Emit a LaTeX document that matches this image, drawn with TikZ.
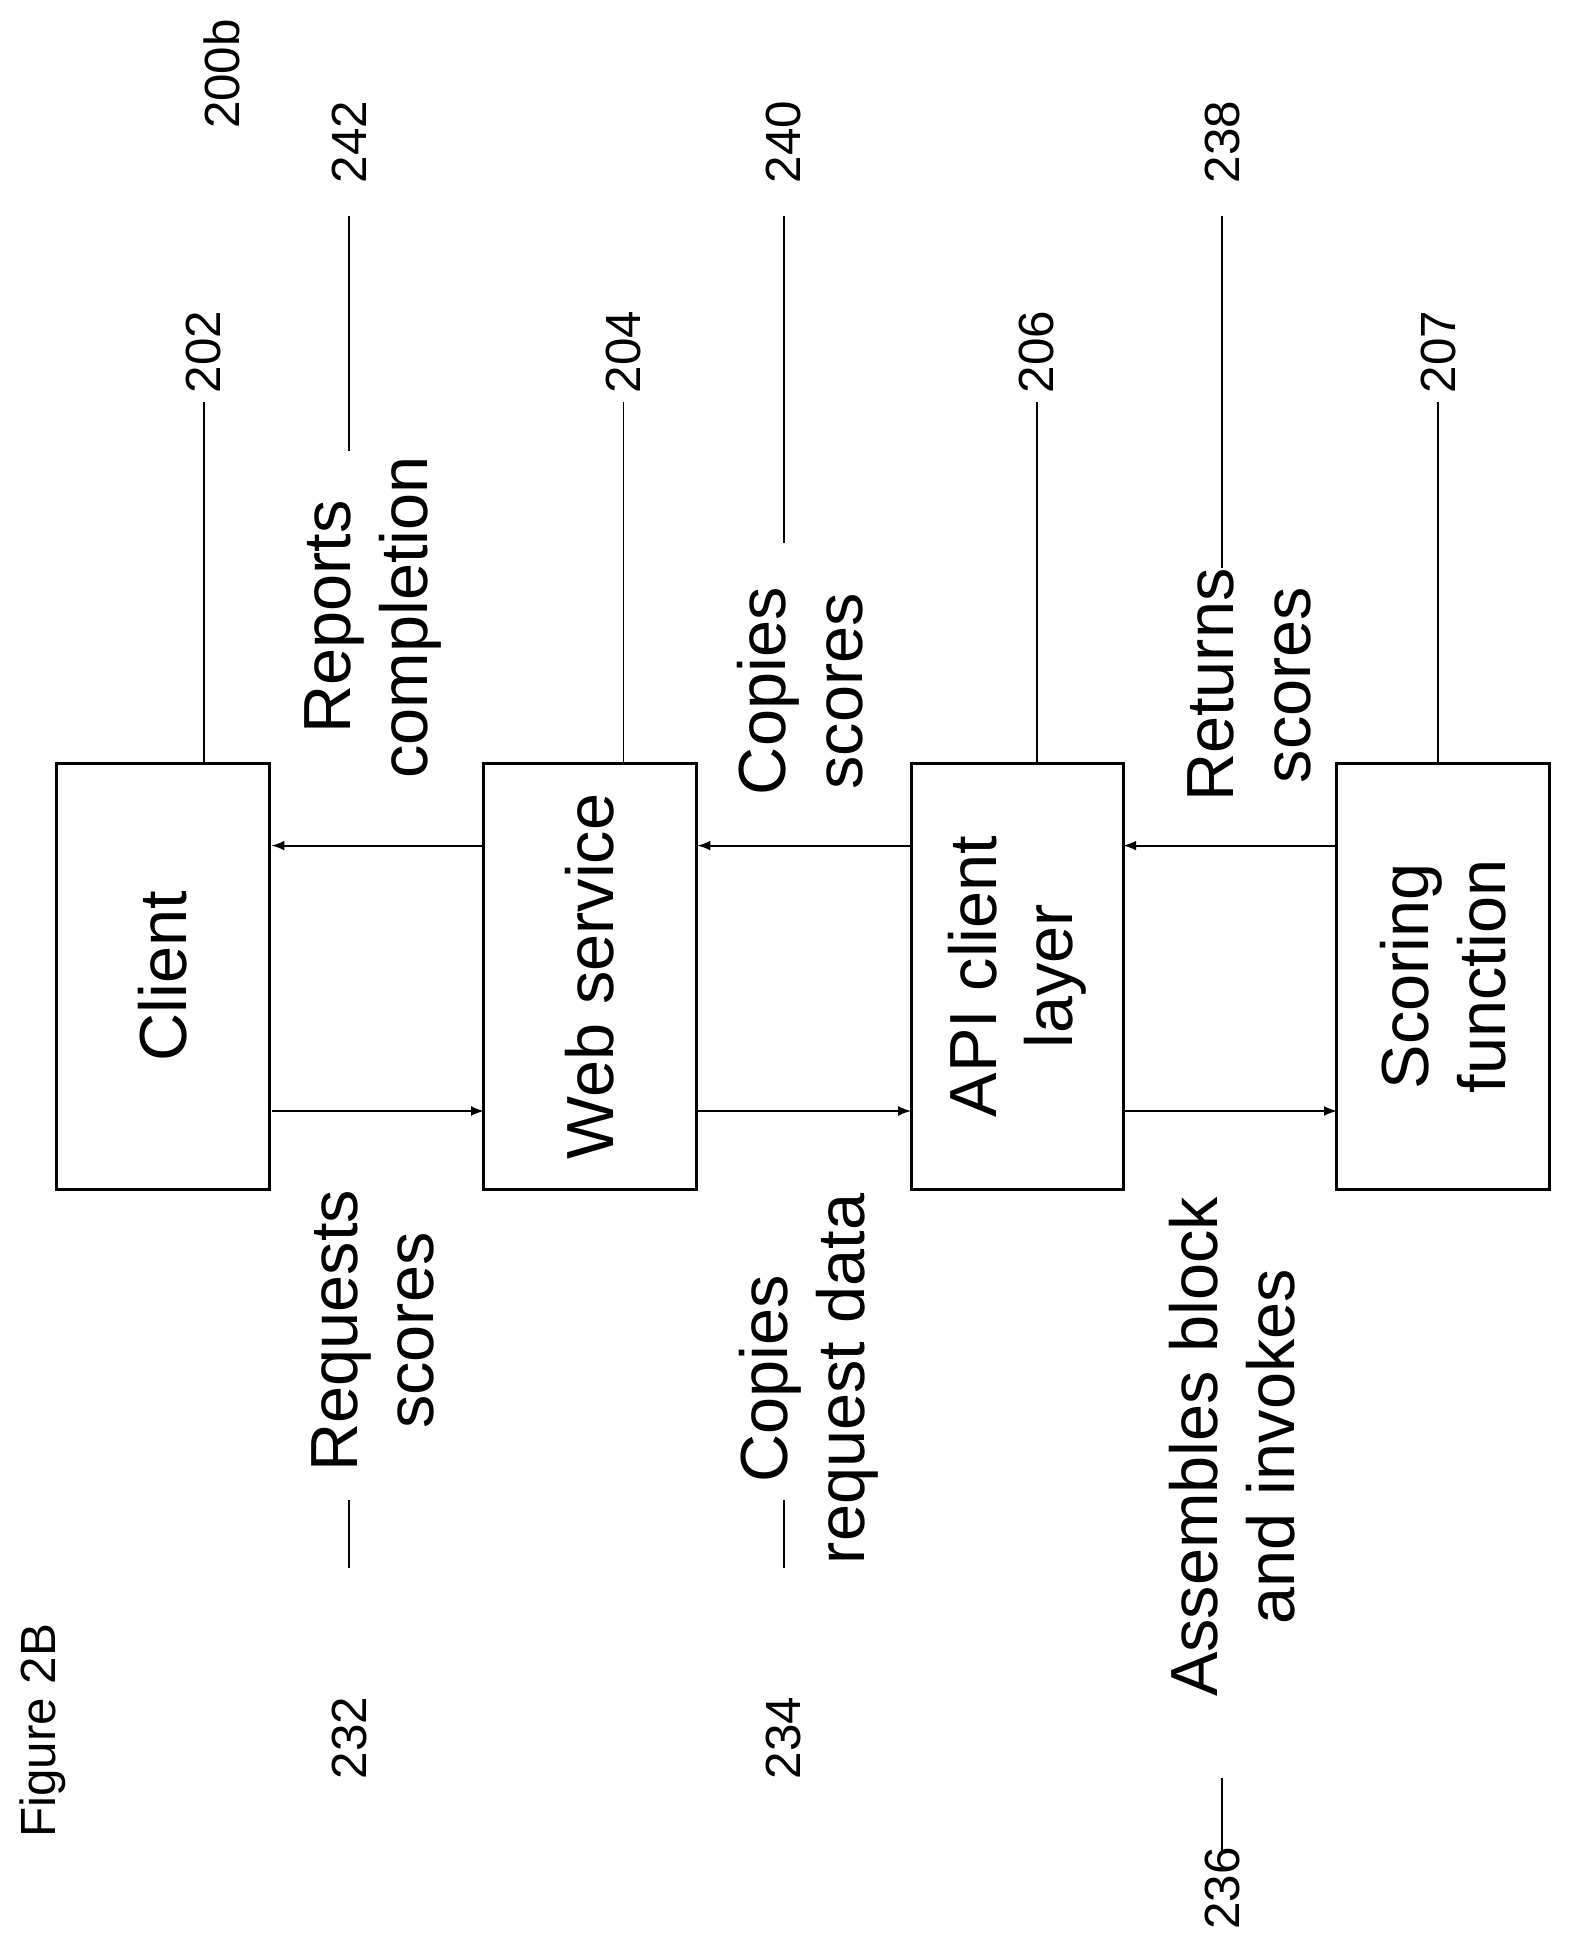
\documentclass[tikz,border=0pt]{standalone}
\usepackage{fontspec}
\setmainfont{Liberation Sans}
\usepackage{xcolor}
\begin{document}
\begin{tikzpicture}[x=0.5pt,y=-0.5pt,
  box/.style={draw,line width=1.2pt,minimum width=172.5pt,minimum height=86pt,rotate=90,align=center,font=\fontsize{27}{31}\selectfont},
  lbl/.style={rotate=90,align=center,font=\fontsize{27}{31}\selectfont},
  num/.style={rotate=90,font=\fontsize{20}{24}\selectfont},
  flow/.style={-latex,line width=0.8pt},
  lead/.style={line width=0.7pt}]
\useasboundingbox (0,0) rectangle (1280,1574);

%Boxes
\node[box] (client) at (132,791) {Client};
\node[box] (web) at (478,791) {Web service};
\node[box] (api) at (824,791) {API client\\layer};
\node[box] (score) at (1169,791) {Scoring\\function};

%Arrows
\coordinate (r1) at (220,900); \coordinate (r2) at (392,900);
\coordinate (r3) at (565,900); \coordinate (r4) at (738,900);
\coordinate (r5) at (910,900); \coordinate (r6) at (1083,900);
\draw[flow] (r1) -- (r2);
\draw[flow] (r3) -- (r4);
\draw[flow] (r5) -- (r6);
\coordinate (l1) at (220,685); \coordinate (l2) at (392,685);
\coordinate (l3) at (565,685); \coordinate (l4) at (738,685);
\coordinate (l5) at (910,685); \coordinate (l6) at (1083,685);
\draw[flow] (l2) -- (l1);
\draw[flow] (l4) -- (l3);
\draw[flow] (l6) -- (l5);

%Labels
\node[lbl] (req) at (302,1078) {Requests\\scores};
\node[lbl] (creq) at (655,1117) {Copies\\request data};
\node[lbl] (asm) at (998,1172) {Assembles block\\and invokes};
\node[lbl] (rep) at (302,500) {Reports\\completion};
\node[lbl] (csc) at (648,560) {Copies\\scores};
\node[lbl] (ret) at (1012,555) {Returns\\scores};

%Reference numbers
\node[num] (n202) at (165,285) {202};
\node[num] (n204) at (505,285) {204};
\node[num] (n206) at (840,285) {206};
\node[num] (n207) at (1165,285) {207};
\node[num] (n242) at (283,115) {242};
\node[num] (n240) at (635,115) {240};
\node[num] (n238) at (990,115) {238};
\node[num] (n200) at (180,60) {200b};
\node[num] (n232) at (283,1408) {232};
\node[num] (n234) at (635,1408) {234};
\node[num] (n236) at (990,1530) {236};
\node[num] (fig) at (35,1402) {Figure 2B};

\draw[lead] (n202.west) -- (client.east -| n202);
\draw[lead] (n204.west) -- (web.east -| n204);
\draw[lead] (n206.west) -- (api.east -| n206);
\draw[lead] (n207.west) -- (score.east -| n207);
\draw[lead] (283,175) -- (283,365);
\draw[lead] (635,175) -- (635,440);
\draw[lead] (990,175) -- (990,460);
\draw[lead] (283,1270) -- (283,1215);
\draw[lead] (635,1270) -- (635,1215);
\draw[lead] (990,1500) -- (990,1440);
\end{tikzpicture}
\end{document}
